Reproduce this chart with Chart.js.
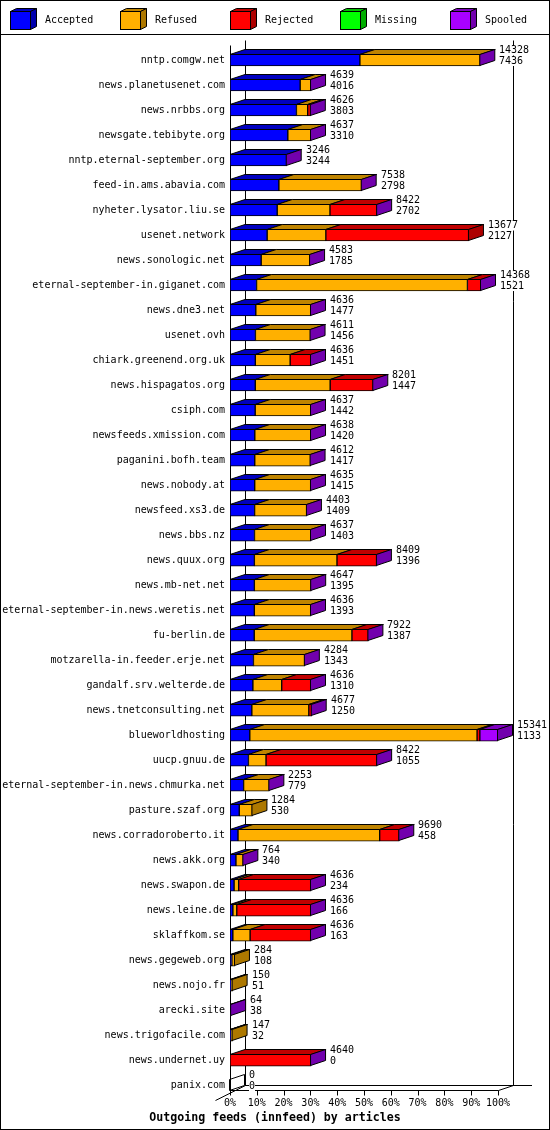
<!DOCTYPE html>
<html>
<head>
<meta charset="utf-8">
<script src="https://cdn.jsdelivr.net/npm/chart.js@4.4.1/dist/chart.umd.min.js"></script>
<style>
  html, body { margin: 0; padding: 0; background: #fff; }
  canvas { display: block; }
</style>
</head>
<body>
<canvas id="feeds" width="550" height="1130"></canvas>
<script>
const hosts = [
  "nntp.comgw.net", "news.planetusenet.com", "news.nrbbs.org", "newsgate.tebibyte.org",
  "nntp.eternal-september.org", "feed-in.ams.abavia.com", "nyheter.lysator.liu.se",
  "usenet.network", "news.sonologic.net", "eternal-september-in.giganet.com", "news.dne3.net",
  "usenet.ovh", "chiark.greenend.org.uk", "news.hispagatos.org", "csiph.com",
  "newsfeeds.xmission.com", "paganini.bofh.team", "news.nobody.at", "newsfeed.xs3.de",
  "news.bbs.nz", "news.quux.org", "news.mb-net.net", "eternal-september-in.news.weretis.net",
  "fu-berlin.de", "motzarella-in.feeder.erje.net", "gandalf.srv.welterde.de",
  "news.tnetconsulting.net", "blueworldhosting", "uucp.gnuu.de",
  "eternal-september-in.news.chmurka.net", "pasture.szaf.org", "news.corradoroberto.it",
  "news.akk.org", "news.swapon.de", "news.leine.de", "sklaffkom.se", "news.gegeweb.org",
  "news.nojo.fr", "arecki.site", "news.trigofacile.com", "news.undernet.uy", "panix.com"
];

// upper number next to each bar (offered)
const totals = [
  14328, 4639, 4626, 4637, 3246, 7538, 8422, 13677, 4583, 14368, 4636,
  4611, 4636, 8201, 4637, 4638, 4612, 4635, 4403, 4637, 8409, 4647, 4636,
  7922, 4284, 4636, 4677, 15341, 8422, 2253, 1284, 9690, 764, 4636, 4636,
  4636, 284, 150, 64, 147, 4640, 0
];

const accepted = [
  7436, 4016, 3803, 3310, 3244, 2798, 2702, 2127, 1785, 1521, 1477,
  1456, 1451, 1447, 1442, 1420, 1417, 1415, 1409, 1403, 1396, 1395, 1393,
  1387, 1343, 1310, 1250, 1133, 1055, 779, 530, 458, 340, 234, 166,
  163, 108, 51, 38, 32, 0, 0
];

const refused = [
  6892, 623, 643, 1327, 2, 4740, 3020, 3359, 2798, 12070, 3159,
  3155, 1991, 4285, 3195, 3218, 3195, 3220, 2994, 3234, 4727, 3252, 3243,
  5592, 2941, 1650, 3260, 13009, 1006, 1474, 754, 8110, 424, 261, 221,
  986, 176, 99, 26, 115, 0, 0
];

const rejected = [
  0, 0, 180, 0, 0, 0, 2700, 8191, 0, 777, 0,
  0, 1194, 2469, 0, 0, 0, 0, 0, 0, 2286, 0, 0,
  943, 0, 1676, 167, 160, 6361, 0, null, 1122, 0, 4141, 4249,
  3487, null, null, 0, null, 4640, 0
];

const missing = [
  0, 0, 0, 0, 0, 0, 0, null, 0, 0, 0,
  0, 0, 0, 0, 0, 0, 0, 0, 0, 0, 0, 0,
  0, 0, 0, 0, 0, 0, 0, null, 0, 0, 0, 0,
  0, null, null, 0, null, 0, 0
];

const spooled = [
  0, 0, 0, 0, 0, 0, 0, null, 0, 0, 0,
  0, 0, 0, 0, 0, 0, 0, 0, 0, 0, 0, 0,
  0, 0, 0, 0, 1039, 0, 0, null, 0, 0, 0, 0,
  0, null, null, 0, null, 0, 0
];

const seriesNames = ["Accepted", "Refused", "Rejected", "Missing", "Spooled"];
const seriesColors = ["#0000ff", "#ffb000", "#ff0000", "#00ff00", "#a800ff"];
const seriesData = [accepted, refused, rejected, missing, spooled];

const MONO = '"DejaVu Sans Mono", monospace';
const DX = 15, DY = 5, BAR_H = 12;
const maxTotal = Math.max(...totals);

function shade(hex, f) {
  const n = parseInt(hex.slice(1), 16);
  const r = Math.round(((n >> 16) & 255) * f);
  const g = Math.round(((n >> 8) & 255) * f);
  const b = Math.round((n & 255) * f);
  return `rgb(${r},${g},${b})`;
}

function poly(ctx, pts, fill) {
  ctx.beginPath();
  ctx.moveTo(pts[0][0], pts[0][1]);
  for (let k = 1; k < pts.length; k++) ctx.lineTo(pts[k][0], pts[k][1]);
  ctx.closePath();
  if (fill) { ctx.fillStyle = fill; ctx.fill(); }
  ctx.stroke();
}

function line(ctx, x1, y1, x2, y2) {
  ctx.beginPath();
  ctx.moveTo(x1, y1);
  ctx.lineTo(x2, y2);
  ctx.stroke();
}

/* ===== 3D frame, faces, value labels, legend ===== */
const box3d = {
  id: "box3d",
  beforeDatasetsDraw(chart) {
    const ctx = chart.ctx;
    const { left: L, right: R, top: T } = chart.chartArea;
    const ys = chart.scales.y, xs = chart.scales.x;
    const floorF = Math.round(ys.getPixelForValue(hosts.length - 1) + BAR_H / 2) - 0.5;
    const floorB = floorF - DY;
    const topF = Math.round(T - 2.5) + 0.5, topB = topF - DY;
    ctx.save();
    ctx.strokeStyle = "#000";
    ctx.lineWidth = 1;
    line(ctx, L + 0.5, topF, L + 0.5, floorF);
    line(ctx, L + DX + 0.5, topB, L + DX + 0.5, floorB);
    line(ctx, R + DX + 0.5, topB, R + DX + 0.5, floorB);
    line(ctx, L + DX, floorB, R + DX + 19, floorB);
    line(ctx, L, floorF, R + 0.5, floorF);
    line(ctx, R + 0.5, floorF, R + DX + 0.5, floorB);
    line(ctx, L + DX + 0.5, floorB, L - DX + 0.5, floorF + 2 * DY);
    xs.ticks.forEach(t => {
      const px = Math.round(xs.getPixelForValue(t.value)) + 0.5;
      line(ctx, px, floorF, px, floorF + 5);
    });
    ctx.restore();
  },
  afterDatasetsDraw(chart) {
    const ctx = chart.ctx;
    ctx.save();
    ctx.strokeStyle = "#000";
    ctx.lineWidth = 1;
    hosts.forEach((h, i) => {
      let last = -1;
      chart.data.datasets.forEach((ds, d) => {
        const v = ds.data[i];
        if (v == null) return;
        last = d;
        const el = chart.getDatasetMeta(d).data[i];
        const x0 = Math.min(el.base, el.x), x1 = Math.max(el.base, el.x);
        if (x1 - x0 < 0.5) return;
        const yt = Math.round(el.y - BAR_H / 2) + 0.5;
        poly(ctx, [[x0, yt], [x1, yt], [x1 + DX, yt - DY], [x0 + DX, yt - DY]],
          shade(seriesColors[d], 0.75));
      });
      if (last < 0) return;
      const el = chart.getDatasetMeta(last).data[i];
      const xe = Math.max(el.base, el.x) - 0.5;
      const yt = Math.round(el.y - BAR_H / 2) + 0.5, yb = yt + BAR_H - 1;
      poly(ctx, [[xe, yt], [xe + DX, yt - DY], [xe + DX, yb - DY], [xe, yb]],
        totals[i] === 0 ? null : shade(seriesColors[last], 0.68));
    });
    ctx.restore();
  },
  afterDraw(chart) {
    const ctx = chart.ctx;
    const xs = chart.scales.x, ys = chart.scales.y;
    ctx.save();
    ctx.font = "10px " + MONO;
    ctx.textBaseline = "middle";
    ctx.textAlign = "left";
    hosts.forEach((h, i) => {
      const sum = seriesData.reduce((s, arr) => s + (arr[i] || 0), 0);
      const x = Math.round(xs.getPixelForValue(sum)) + DX + 4;
      const c = ys.getPixelForValue(i);
      [[String(totals[i]), c - 9.5], [String(accepted[i]), c + 1]].forEach(([txt, y]) => {
        const w = ctx.measureText(txt).width;
        ctx.fillStyle = "#fff";
        ctx.fillRect(x, y - 5, w, 10);
        ctx.fillStyle = "#000";
        ctx.fillText(txt, x, y);
      });
    });

    // legend
    ctx.strokeStyle = "#000";
    ctx.lineWidth = 1;
    chart.data.datasets.forEach((ds, d) => {
      const x0 = 10.5 + 110 * d, y0 = 11.5, w = 20, hh = 18, ox = 6, oy = 3;
      poly(ctx, [[x0, y0], [x0 + ox, y0 - oy], [x0 + w + ox, y0 - oy], [x0 + w, y0]],
        shade(seriesColors[d], 0.75));
      poly(ctx, [[x0 + w, y0], [x0 + w + ox, y0 - oy], [x0 + w + ox, y0 + hh - oy], [x0 + w, y0 + hh]],
        shade(seriesColors[d], 0.68));
      ctx.fillStyle = seriesColors[d];
      ctx.fillRect(x0, y0, w, hh);
      ctx.strokeRect(x0, y0, w, hh);
      ctx.fillStyle = "#000";
      ctx.fillText(ds.label, x0 + 34.5, 20);
    });
    line(ctx, 0, 34.5, 550, 34.5);
    ctx.strokeRect(0.5, 0.5, 549, 1129);
    ctx.restore();
  }
};

const ctx = document.getElementById("feeds").getContext("2d");

new Chart(ctx, {
  type: "bar",
  data: {
    labels: hosts,
    datasets: seriesNames.map((name, d) => ({
      label: name,
      data: seriesData[d],
      backgroundColor: seriesColors[d],
      borderColor: "#000",
      borderWidth: 1,
      borderSkipped: false,
      barThickness: BAR_H
    }))
  },
  options: {
    indexAxis: "y",
    responsive: false,
    animation: false,
    devicePixelRatio: 1,
    layout: { padding: { left: 0, right: 0, top: 47.5, bottom: 0 } },
    scales: {
      x: {
        stacked: true,
        min: 0,
        max: maxTotal,
        grid: { display: false, drawTicks: false },
        border: { display: false },
        afterBuildTicks: scale => {
          scale.ticks = [0, 1, 2, 3, 4, 5, 6, 7, 8, 9, 10].map(k => ({ value: k * maxTotal / 10 }));
        },
        afterFit: scale => { scale.height = 12; },
        ticks: {
          autoSkip: false,
          maxRotation: 0,
          padding: 0,
          color: "#000",
          font: { family: MONO, size: 10 },
          callback: v => Math.round(v / maxTotal * 100) + "%"
        }
      },
      y: {
        stacked: true,
        grid: { display: false, drawTicks: false },
        border: { display: false },
        afterFit: scale => { scale.width = 230; },
        ticks: {
          autoSkip: false,
          padding: 5,
          color: "#000",
          font: { family: MONO, size: 10 }
        }
      },
      // empty room on the right for the value labels
      yRight: {
        type: "category",
        position: "right",
        grid: { display: false, drawTicks: false },
        border: { display: false },
        ticks: { display: false },
        afterFit: scale => { scale.width = 52; }
      }
    },
    plugins: {
      legend: { display: false },
      tooltip: { enabled: false },
      title: {
        display: true,
        position: "bottom",
        text: "Outgoing feeds (innfeed) by articles",
        color: "#000",
        font: { family: MONO, size: 11.6, weight: "bold", lineHeight: 1.24 },
        padding: { top: 1, bottom: 5 }
      }
    }
  },
  plugins: [box3d]
});
</script>
</body>
</html>
